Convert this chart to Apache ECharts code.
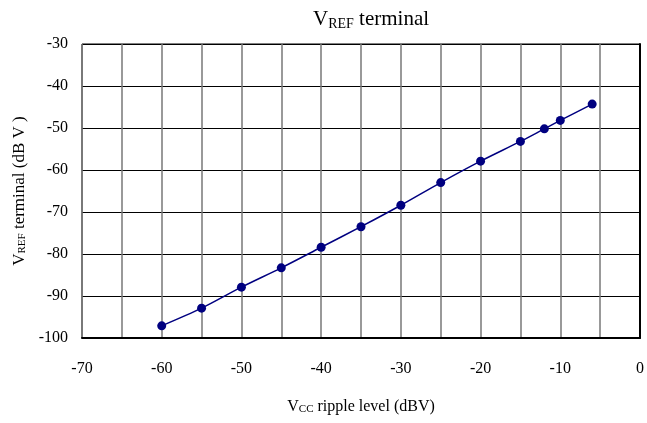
<!DOCTYPE html>
<html><head><meta charset="utf-8">
<script src="https://cdn.jsdelivr.net/npm/echarts@6/dist/echarts.min.js"></script>
<style>html,body{margin:0;padding:0;background:#fff}#c{width:647px;height:423px}</style>
</head><body><div id="c"></div>
<script>
const rippleLevel = [-60, -55, -50, -45, -40, -35, -30, -25, -20, -15, -12, -10, -6];
const vrefTerminal = [-97.1, -92.9, -87.9, -83.3, -78.4, -73.5, -68.4, -63.0, -57.9, -53.2, -50.2, -48.2, -44.3];
const xTicks = [-70, -60, -50, -40, -30, -20, -10, 0];
const yTicks = [-100, -90, -80, -70, -60, -50, -40, -30];

const font = 'Liberation Serif';
const chart = echarts.init(document.getElementById('c'), null, {renderer: 'canvas'});
chart.setOption({
  animation: false,
  backgroundColor: '#fff',
  title: {
    text: '{v|V}{s|REF}{v| terminal}',
    left: 366, top: 3, textAlign: 'center',
    textStyle: {
      fontWeight: 'normal',
      rich: {
        v: {fontFamily: font, fontSize: 21, fontWeight: 'normal', color: '#000'},
        s: {fontFamily: font, fontSize: 14, fontWeight: 'normal', color: '#000', verticalAlign: 'bottom', padding: [9, 0, 0, 0]}
      }
    }
  },
  grid: {left: 82, right: 5, top: 44, bottom: 85, show: true, borderColor: '#000', borderWidth: 1},
  xAxis: {
    type: 'value', min: -70, max: 0, interval: 5,
    name: '{v|V}{s|CC}{v| ripple level (dBV)}',
    nameLocation: 'middle', nameGap: 60,
    nameTextStyle: {
      rich: {
        v: {fontFamily: font, fontSize: 16, color: '#000'},
        s: {fontFamily: font, fontSize: 11, color: '#000', verticalAlign: 'bottom', padding: [6, 0, 0, 0]}
      }
    },
    axisLine: {show: true, lineStyle: {color: '#000', width: 2}},
    axisTick: {show: false},
    axisLabel: {
      margin: 23, fontFamily: font, fontSize: 16, color: '#000',
      formatter: v => (xTicks.indexOf(v) >= 0 ? String(v) : '')
    },
    splitLine: {show: true, lineStyle: {color: '#777', width: 1.5}}
  },
  yAxis: {
    type: 'value', min: -100, max: -30, interval: 10,
    name: '{v|V}{s|REF}{v| terminal (dB V )}',
    nameLocation: 'middle', nameGap: 54, nameRotate: 90,
    nameTextStyle: {
      rich: {
        v: {fontFamily: font, fontSize: 17, color: '#000'},
        s: {fontFamily: font, fontSize: 11, color: '#000', verticalAlign: 'bottom', padding: [6, 0, 0, 0]}
      }
    },
    axisLine: {show: true, lineStyle: {color: '#000', width: 2}},
    axisTick: {show: false},
    axisLabel: {
      margin: 14, fontFamily: font, fontSize: 16, color: '#000',
      formatter: v => (yTicks.indexOf(v) >= 0 ? String(v) : '')
    },
    splitLine: {show: true, lineStyle: {color: '#000', width: 1}}
  },
  series: [{
    type: 'line',
    data: rippleLevel.map((x, i) => [x, vrefTerminal[i]]),
    smooth: 0.3,
    symbol: 'circle', symbolSize: 9,
    itemStyle: {color: '#000080'},
    lineStyle: {color: '#000080', width: 1.5}
  }]
});
</script></body></html>
